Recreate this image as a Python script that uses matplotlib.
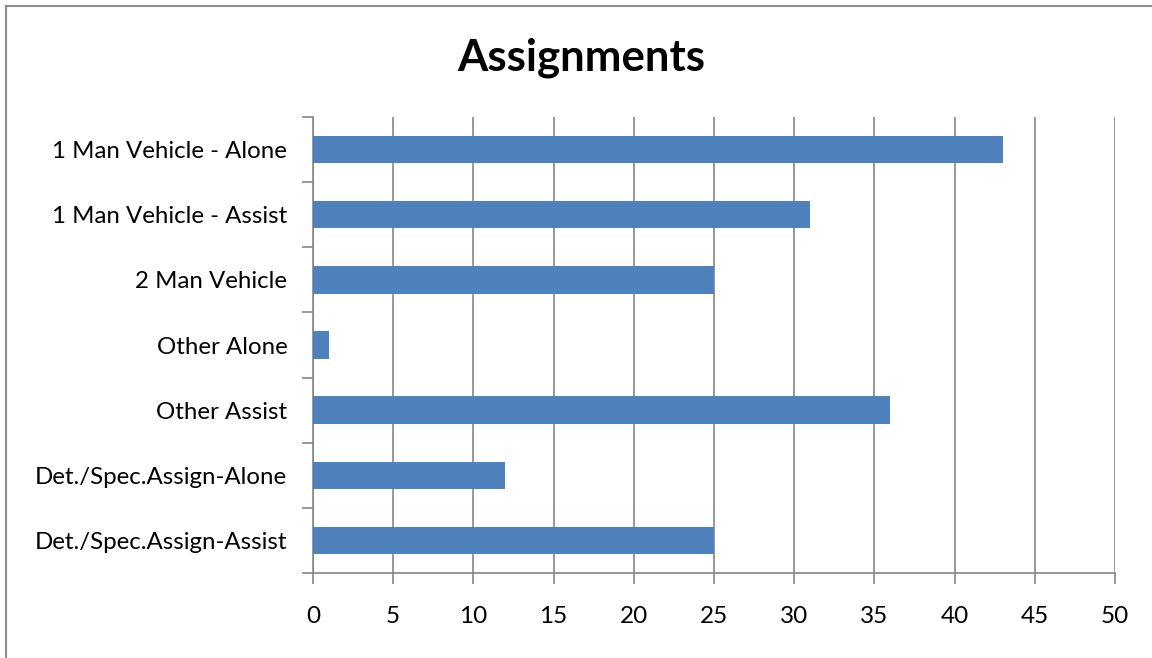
import matplotlib
matplotlib.use("Agg")
from matplotlib import pyplot as plt
from matplotlib.lines import Line2D

# data
categories = ["1 Man Vehicle - Alone", "1 Man Vehicle - Assist", "2 Man Vehicle",
              "Other Alone", "Other Assist", "Det./Spec.Assign-Alone",
              "Det./Spec.Assign-Assist"]
values = [43, 31, 25, 1, 36, 12, 25]
x_ticks = list(range(0, 51, 5))

plt.rcParams['font.family'] = ['Lato', 'DejaVu Sans']

fig = plt.figure(figsize=(11.52, 6.58), dpi=100)
ax = fig.add_axes([313 / 1152, 1 - 573 / 658, (1115 - 313) / 1152, (573 - 117) / 658])

y = list(range(len(categories)))
ax.barh(y, values, height=0.42, color="#4F81BD", zorder=3)

ax.set_xlim(0, 50)
ax.set_ylim(len(categories) - 0.5, -0.5)

ax.set_xticks(x_ticks)
ax.set_xticklabels([str(t) for t in x_ticks], fontsize=17.5)
ax.set_yticks(y)
ax.set_yticklabels(categories, fontsize=17.3)
ax.tick_params(axis="y", length=0, pad=18.5)
ax.tick_params(axis="x", length=8, width=1.2, color="#868686", pad=16, direction="out")

# category boundary ticks
ax.set_yticks([i - 0.5 for i in range(len(categories) + 1)], minor=True)
ax.tick_params(axis="y", which="minor", length=8, width=1.2, color="#868686")

ax.grid(axis="x", color="#868686", linewidth=1.2, zorder=0)
for s in ["top", "right"]:
    ax.spines[s].set_visible(False)
for s in ["left", "bottom"]:
    ax.spines[s].set_color("#868686")
    ax.spines[s].set_linewidth(1.2)

fig.text(581 / 1152, 1 - 58 / 658, "Assignments", fontsize=31.5, fontweight="bold",
         ha="center", va="center")

# chart border (left and top)
fig.add_artist(Line2D([5.5 / 1152, 5.5 / 1152], [0, 1 - 5.5 / 658],
                      transform=fig.transFigure, color="#8C8C8C", linewidth=1.5))
fig.add_artist(Line2D([5.5 / 1152, 1], [1 - 5.5 / 658, 1 - 5.5 / 658],
                      transform=fig.transFigure, color="#8C8C8C", linewidth=1.5))

fig.savefig("out.png", dpi=100)
